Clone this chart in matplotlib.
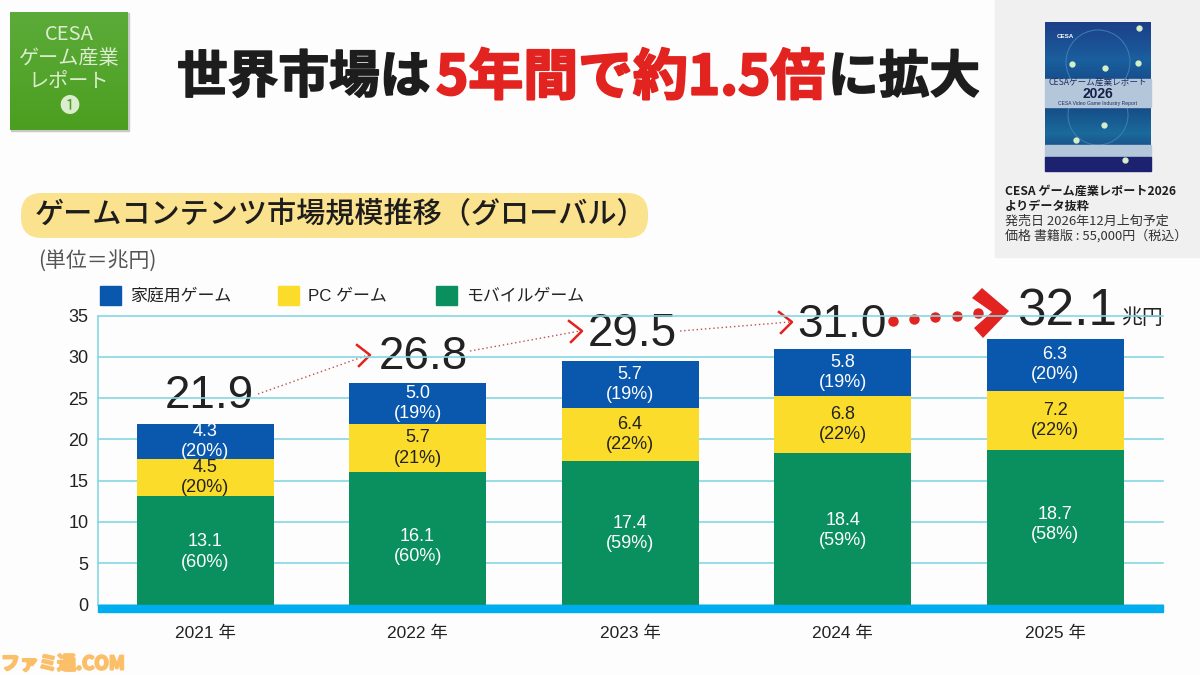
import matplotlib
matplotlib.use('Agg')
import matplotlib.pyplot as plt
import matplotlib.patheffects as pe
import numpy as np
from matplotlib.patches import Rectangle, FancyBboxPatch, Polygon, Circle

plt.rcParams['font.family'] = ['Noto Sans CJK JP', 'DejaVu Sans']
LATIN = ['Liberation Sans', 'Noto Sans CJK JP']

# datos
years = ['2021 年', '2022 年', '2023 年', '2024 年', '2025 年']
mobile = [13.1, 16.1, 17.4, 18.4, 18.7]
pc = [4.5, 5.7, 6.4, 6.8, 7.2]
console = [4.3, 5.0, 5.7, 5.8, 6.3]
mobile_pct = [60, 60, 59, 59, 58]
pc_pct = [20, 21, 22, 22, 22]
console_pct = [20, 19, 19, 19, 20]
totals = ['21.9', '26.8', '29.5', '31.0', '32.1']
series_names = ['家庭用ゲーム', 'PC ゲーム', 'モバイルゲーム']

BLUE = '#0a58ad'
YELLOW = '#fbdc2a'
GREEN = '#0a8f5f'
CYAN = '#00aeef'
GRID = '#86d8e2'
TXT = '#222222'
RED = '#e2231f'

W, H = 1200, 675
fig = plt.figure(figsize=(12, 6.75), dpi=100, facecolor='#fdfdfd')

# capa de pixeles para la decoracion
bg = fig.add_axes([0, 0, 1, 1], zorder=0)
bg.set_xlim(0, W)
bg.set_ylim(H, 0)
bg.axis('off')

# eje principal
ax = fig.add_axes([98 / W, 1 - 604.5 / H, (1163 - 98) / W, (604.5 - 315.5) / H], zorder=1)
ax.patch.set_alpha(0)
x = np.arange(5)
ax.set_xlim(-0.504, 4.508)
ax.set_ylim(0, 35)
width = 0.645
ax.bar(x, mobile, width, color=GREEN, zorder=3)
ax.bar(x, pc, width, bottom=mobile, color=YELLOW, zorder=3)
bottom2 = np.array(mobile) + np.array(pc)
ax.bar(x, console, width, bottom=bottom2, color=BLUE, zorder=3)

ax.set_yticks(range(0, 36, 5))
ax.set_xticks(x)
ax.set_xticklabels(years, family=LATIN, fontsize=12.5)
ax.tick_params(axis='both', length=0, labelcolor=TXT)
ax.tick_params(axis='x', pad=15)
ax.tick_params(axis='y', pad=7, labelsize=13)
for lab in ax.get_yticklabels():
    lab.set_family(LATIN)
ax.grid(axis='y', color=GRID, linewidth=1.2, zorder=1)
for gl in ax.get_ygridlines():
    gl.set_clip_on(False)
for s in ['top', 'right', 'bottom']:
    ax.spines[s].set_visible(False)
ax.spines['left'].set_color(GRID)
ax.spines['left'].set_linewidth(1.2)

# etiquetas de cada tramo
green_shift = [-0.2, -1.0, -0.1, -0.2, 0.3]
for i in range(5):
    ax.text(i, mobile[i] / 2 + green_shift[i], f'{mobile[i]}\n({mobile_pct[i]}%)', color='white', fontsize=13,
            ha='center', va='center', linespacing=1.25, zorder=4, family=LATIN)
    ax.text(i, mobile[i] + pc[i] / 2, f'{pc[i]}\n({pc_pct[i]}%)', color=TXT, fontsize=13,
            ha='center', va='center', linespacing=1.25, zorder=4, family=LATIN)
    ax.text(i, bottom2[i] + console[i] / 2, f'{console[i]}\n({console_pct[i]}%)', color='white', fontsize=13,
            ha='center', va='center', linespacing=1.25, zorder=4, family=LATIN)

# banda cian de la base
fig.add_artist(Rectangle((98 / W, 1 - 612 / H), 1065 / W, 7 / H, color=CYAN, transform=fig.transFigure, zorder=5))

# totales
total_px = [(209, 396), (423, 357), (632, 334), (842, 325), (1067, 312)]
for t, (px, py), fs in zip(totals, total_px, [33, 33, 33, 33, 37]):
    bg.text(px, py, t, fontsize=fs, color=TXT, ha='center', va='center', zorder=6, family=LATIN)
bg.text(1142, 318, '兆円', fontsize=15, color=TXT, ha='center', va='center', zorder=6)

# flechas punteadas
arrows = [((258, 394), (368, 355)), ((470, 351), (580, 331)), ((680, 331), (790, 322))]
for (x0, y0), (x1, y1) in arrows:
    bg.plot([x0, x1], [y0, y1], color='#c0504d', linewidth=1, linestyle=(0, (1, 2)), zorder=2)
    bg.plot([x1 - 11, x1 + 2, x1 - 9], [y1 - 10, y1, y1 + 11], color=RED, linewidth=1.8, zorder=6)
bg.plot([893, 914, 935, 957, 978], [321, 319, 317, 316, 313], 'o', color=RED, markersize=6.5,
        linestyle='none', zorder=6)
bg.add_patch(Polygon([(972, 298), (982, 288), (1009, 311), (983, 338), (974, 328), (992, 312)],
                     facecolor=RED, edgecolor='none', zorder=6))

# leyenda
leg_x = [100, 278, 436]
for name, col, lx in zip(series_names, [BLUE, YELLOW, GREEN], leg_x):
    bg.add_patch(Rectangle((lx, 286), 21, 19, color=col, zorder=3))
    bg.text(lx + 30, 296, name, fontsize=12.2, color=TXT, ha='left', va='center', zorder=3, family=LATIN)

bg.text(38, 261, '(単位＝兆円)', fontsize=15, color='#555555', ha='left', va='center')

# titulo
heavy_k = [pe.withStroke(linewidth=1.2, foreground='#1d1d1d')]
heavy_r = [pe.withStroke(linewidth=1.6, foreground=RED)]
bg.text(177, 78, '世界市場は', fontsize=36.5, fontweight='bold', color='#1d1d1d', ha='left', va='center',
        path_effects=heavy_k)
bg.text(436, 78, '5年間で約1.5倍', fontsize=39.5, fontweight='bold', color=RED, ha='left', va='center',
        path_effects=heavy_r)
bg.text(828, 78, 'に拡大', fontsize=36.5, fontweight='bold', color='#1d1d1d', ha='left', va='center',
        path_effects=heavy_k)

# caja verde
bg.add_patch(Rectangle((11, 13), 118, 118, color='#c8c8c8', zorder=1))
grad = np.linspace(0, 1, 100).reshape(-1, 1)
cmap = matplotlib.colors.LinearSegmentedColormap.from_list('g', ['#5cab3a', '#4b9f1f'])
bg.imshow(grad, extent=(10, 128, 130, 12), cmap=cmap, aspect='auto', zorder=2)
box_lines = ['CESA', 'ゲーム産業', 'レポート', '❶']
for s, py in zip(box_lines, [35, 59, 81, 106]):
    bg.text(69, py, s, fontsize=14.5, color='#dcedcf', ha='center', va='center', zorder=3,
            family=['Noto Sans CJK JP', 'DejaVu Sans'])

# subtitulo en pastilla
bg.add_patch(FancyBboxPatch((21, 193), 627, 45, boxstyle='round,pad=0,rounding_size=21',
                            facecolor='#fbe28e', edgecolor='none', zorder=1))
bg.text(35, 215, 'ゲームコンテンツ市場規模推移（グローバル）', fontsize=21, fontweight='medium', color='#1d1d1d',
        ha='left', va='center', zorder=2)

# panel del libro
bg.add_patch(Rectangle((995, 0), 205, 257, color='#f0f0f0', zorder=1))
cover = np.linspace(0, 1, 100).reshape(-1, 1)
cmap2 = matplotlib.colors.LinearSegmentedColormap.from_list('b', ['#1c3f88', '#1a5f9e', '#14407f', '#1a6a9c', '#1c2a6e'])
bg.imshow(cover, extent=(1045, 1151, 171, 22), cmap=cmap2, aspect='auto', zorder=2)
bg.set_xlim(0, W)
bg.set_ylim(H, 0)
bg.add_patch(Circle((1098, 62), 32, facecolor='none', edgecolor='#3f7fb5', linewidth=0.7, zorder=3))
bg.add_patch(Circle((1098, 115), 30, facecolor='none', edgecolor='#3f7fb5', linewidth=0.7, zorder=3))
bg.add_patch(Rectangle((1045, 79), 106, 28, color='#b4c6da', zorder=3))
bg.add_patch(Rectangle((1045, 145), 106, 12, color='#b4c6da', zorder=3))
bg.add_patch(Rectangle((1045, 157), 106, 14, color='#1c2270', zorder=3))
bg.plot([1072, 1105, 1139, 1104, 1076, 1138, 1125], [64, 68, 28, 125, 140, 63, 160], 'o', color='#d5f0c8',
        markersize=3.5, linestyle='none', zorder=4)
bg.text(1065, 36, 'CESA', fontsize=4.5, fontweight='bold', color='white', ha='center', va='center', zorder=4, family=LATIN)
bg.text(1098, 82, 'CESAゲーム産業レポート', fontsize=6.2, color='#1d2f5c', ha='center', va='center', zorder=4)
bg.text(1098, 94, '2026', fontsize=10, fontweight='bold', color='#14204a', ha='center', va='center', zorder=4, family=LATIN)
bg.text(1098, 104, 'CESA Video Game Industry Report', fontsize=3.6, color='#1d2f5c', ha='center', va='center', zorder=4, family=LATIN)
bg.text(1005, 191, 'CESA ゲーム産業レポート2026', fontsize=8.7, fontweight='bold', color='#1d1d1d', ha='left', va='center', zorder=3)
bg.text(1005, 206, 'よりデータ抜粋', fontsize=8.7, fontweight='bold', color='#1d1d1d', ha='left', va='center', zorder=3)
bg.text(1005, 221, '発売日 2026年12月上旬予定', fontsize=9.4, color='#333333', ha='left', va='center', zorder=3)
bg.text(1005, 236, '価格 書籍版 : 55,000円（税込）', fontsize=9.4, color='#333333', ha='left', va='center', zorder=3)

# marca de agua
bg.text(1, 664, 'ファミ通.COM', fontsize=13.5, fontweight='bold', color='#fbbf6a', ha='left', va='center', zorder=3,
        path_effects=[pe.withStroke(linewidth=1.5, foreground='#fbbf6a')])

fig.savefig('out.png', dpi=100, facecolor=fig.get_facecolor())
